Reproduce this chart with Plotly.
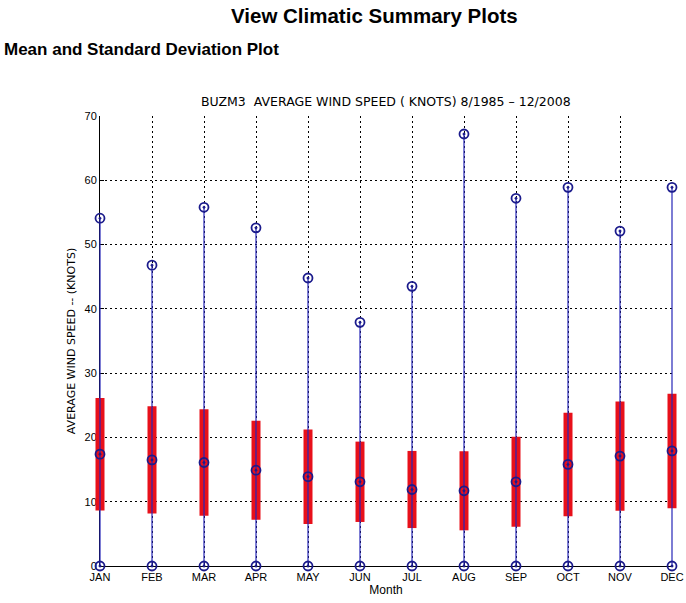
import plotly.graph_objects as go

months = ["JAN", "FEB", "MAR", "APR", "MAY", "JUN", "JUL", "AUG", "SEP", "OCT", "NOV", "DEC"]
mean_speed = [17.4, 16.5, 16.1, 14.9, 13.9, 13.1, 11.9, 11.7, 13.1, 15.8, 17.1, 17.9]
std_speed = [8.75, 8.35, 8.3, 7.7, 7.35, 6.25, 6.0, 6.15, 7.0, 8.05, 8.5, 8.9]
max_speed = [54.1, 46.8, 55.8, 52.6, 44.8, 37.9, 43.5, 67.2, 57.2, 58.9, 52.1, 58.9]
min_speed = [0, 0, 0, 0, 0, 0, 0, 0, 0, 0, 0, 0]

xs = list(range(1, len(months) + 1))

BLUE = "#2626b8"
RED = "#e8101a"
FONT = "Liberation Sans, Arial, sans-serif"
WIDE = "DejaVu Sans, Verdana, sans-serif"

# Axes box (grid, ticks) lives on x/y; the marks live on a slightly wider
# x2/y2 layer with the same month scale so edge bars are not cut off.
W, H = 686, 603
axes_l, axes_r, axes_t, axes_b = 100, 672, 116, 566
pad = 10
m_l, m_r = axes_l - pad, W - (axes_r + pad)
area_w = W - m_l - m_r
area_h = axes_b - axes_t
unit = (axes_r - axes_l) / (len(xs) - 1)
x_dom = [pad / area_w, 1 - pad / area_w]
x2_range = [xs[0] - pad / unit, xs[-1] + pad / unit]

fig = go.Figure()

# invisible trace that keeps the gridded x/y axes box on the page
fig.add_trace(go.Scatter(x=xs, y=mean_speed, mode="markers",
                         marker=dict(size=1, opacity=0),
                         hoverinfo="skip", showlegend=False))

# mean +/- one standard deviation as thick red bars
fig.add_trace(go.Scatter(
    x=xs, y=mean_speed, xaxis="x2", yaxis="y2", mode="markers",
    marker=dict(size=1, opacity=0),
    error_y=dict(type="data", array=std_speed, symmetric=True,
                 color=RED, thickness=9, width=0),
    hoverinfo="skip", showlegend=False))

# thin blue stems from minimum to maximum
fig.add_trace(go.Scatter(
    x=xs, y=mean_speed, xaxis="x2", yaxis="y2", mode="markers",
    marker=dict(size=1, opacity=0),
    error_y=dict(type="data", symmetric=False,
                 array=[hi - m for hi, m in zip(max_speed, mean_speed)],
                 arrayminus=[m - lo for m, lo in zip(mean_speed, min_speed)],
                 color=BLUE, thickness=1.2, width=0),
    hoverinfo="skip", showlegend=False))

marker = dict(symbol="circle-open-dot", size=9, color="#1b1b8c", line=dict(width=1.8))
for ys in (max_speed, mean_speed, min_speed):
    fig.add_trace(go.Scatter(x=xs, y=ys, xaxis="x2", yaxis="y2", mode="markers",
                             marker=marker, cliponaxis=False, showlegend=False))

grid = dict(showgrid=True, gridcolor="black", griddash="2px,3px", gridwidth=1,
            showline=True, linecolor="black", linewidth=1, zeroline=False,
            ticks="inside", ticklen=4, tickcolor="black", tickfont=dict(size=11),
            automargin=False)

fig.update_layout(
    width=W, height=H,
    margin=dict(l=m_l, r=m_r, t=axes_t, b=H - axes_b, autoexpand=False),
    paper_bgcolor="white", plot_bgcolor="rgba(0,0,0,0)",
    font=dict(family=FONT, size=11, color="black"),
    xaxis=dict(domain=x_dom, range=[xs[0], xs[-1]], tickmode="array",
               tickvals=xs, ticktext=months, ticklabelstandoff=1,
               title=dict(text="Month", font=dict(size=12), standoff=1), **grid),
    yaxis=dict(range=[0, 70], tickmode="array", tickvals=list(range(0, 71, 10)),
               title=dict(text="AVERAGE WIND SPEED -- (KNOTS)",
                          font=dict(family=WIDE, size=11), standoff=6), **grid),
    xaxis2=dict(domain=[0, 1], range=x2_range, anchor="y2", visible=False,
                fixedrange=True, automargin=False),
    yaxis2=dict(domain=[0, 1], range=[0, 70], anchor="x2", visible=False,
                fixedrange=True, automargin=False),
    annotations=[
        dict(text="BUZM3  AVERAGE WIND SPEED ( KNOTS) 8/1985 \u2013 12/2008",
             xref="paper", yref="paper", x=0.5, y=1.0, yshift=5,
             xanchor="center", yanchor="bottom", showarrow=False,
             font=dict(family=WIDE, size=12.5)),
        # page header lines above the axes
        dict(text="<b>View Climatic Summary Plots</b>",
             xref="paper", yref="paper",
             x=(374 - m_l) / area_w, y=1 + (axes_t - 16) / area_h,
             xanchor="center", yanchor="middle", showarrow=False,
             font=dict(size=20.5)),
        dict(text="<b>Mean and Standard Deviation Plot</b>",
             xref="paper", yref="paper",
             x=(5 - m_l) / area_w, y=1 + (axes_t - 50) / area_h, xshift=-3,
             xanchor="left", yanchor="middle", showarrow=False,
             font=dict(size=17)),
    ],
)

fig.write_html("out.html")
